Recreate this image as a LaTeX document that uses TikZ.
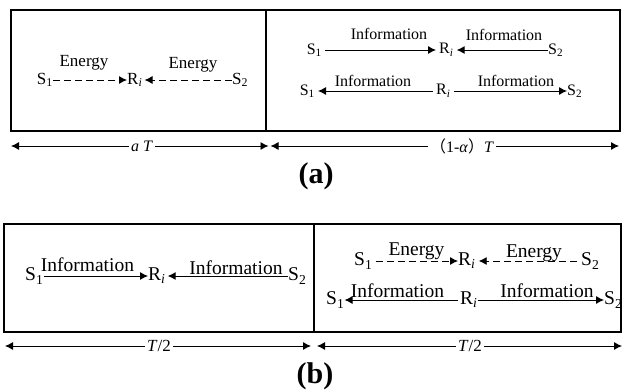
\documentclass[tikz,border=0pt]{standalone}
\usepackage{fontspec}
\setmainfont{Liberation Serif}
\newfontfamily\cjk{Noto Sans CJK SC}
\usetikzlibrary{arrows.meta}
\begin{document}
\begin{tikzpicture}[x=1pt,y=-1pt,
  every node/.style={inner sep=0pt},
  txa/.style={font=\fontsize{17}{19}\selectfont},
  txb/.style={font=\fontsize{16}{18}\selectfont},
  txc/.style={font=\fontsize{19.5}{22}\selectfont},
  dimtx/.style={font=\fontsize{16}{18}\selectfont, fill=white, inner xsep=2pt, inner ysep=1pt},
  flow/.style={-{Latex[length=8pt,width=8pt]}, line width=0.9pt},
  eflow/.style={flow, dash pattern=on 7pt off 4pt},
  dim/.style={-{Latex[length=8pt,width=8pt]}, line width=0.9pt},
  frame/.style={line width=1.2pt},
  divider/.style={line width=1.8pt},
  captx/.style={font=\fontsize{30}{32}\selectfont\bfseries}]
\useasboundingbox (0,0) rectangle (622,389);

% ---------- (a) frame ----------
\draw[frame] (11,10) rectangle (620,131);
\draw[divider] (266,10) -- (266,131);

% (a) left: energy
\node[txa, anchor=east] (a1s1) at (53,80) {S\textsubscript{1}};
\node[txa, anchor=west] (a1ri) at (127,80) {R\textsubscript{\textit{i}}};
\node[txa, anchor=west] (a1s2) at (232,80) {S\textsubscript{2}};
\node[txa, anchor=base] (a1e1) at (84,66) {Energy};
\node[txa, anchor=base] (a1e2) at (193,68) {Energy};
\draw[eflow] (a1s1) -- (a1ri);
\draw[eflow, shorten >=2pt] (a1s2) -- (a1ri);

% (a) right row 1
\node[txb, anchor=east] (a2s1) at (322,50) {S\textsubscript{1}};
\node[txb, anchor=west] (a2ri) at (439,50) {R\textsubscript{\textit{i}}};
\node[txb, anchor=west] (a2s2) at (548,50) {S\textsubscript{2}};
\node[txb, anchor=base] (a2l1) at (389,39) {Information};
\node[txb, anchor=base] (a2l2) at (504,40) {Information};
\draw[flow, shorten <=3pt, shorten >=3pt] (a2s1) -- (a2ri);
\draw[flow, shorten >=3pt] (a2s2) -- (a2ri);

% (a) right row 2
\node[txb, anchor=east] (a3s1) at (315,91) {S\textsubscript{1}};
\node[txb, anchor=west] (a3ri) at (436,91) {R\textsubscript{\textit{i}}};
\node[txb, anchor=west] (a3s2) at (567,91) {S\textsubscript{2}};
\node[txb, anchor=base] (a3l1) at (373,86) {Information};
\node[txb, anchor=base] (a3l2) at (516,86) {Information};
\draw[flow, shorten <=3pt, shorten >=3pt] (a3ri) -- (a3s1);
\draw[flow, shorten <=3pt] (a3ri) -- (a3s2);

% (a) time axis
\coordinate (daL) at (11,146);
\coordinate (daM1) at (268.5,146);
\coordinate (daM2) at (270.5,146);
\coordinate (daR) at (619,146);
\node[dimtx] (daT1) at (142,146) {\textit{a} \textit{T}};
\node[dimtx] (daT2) at (462,146) {{\cjk （}1-\textit{α}{\cjk ）}\textit{T}};
\draw[dim] (daT1) -- (daL);
\draw[dim] (daT1) -- (daM1);
\draw[dim] (daT2) -- (daM2);
\draw[dim] (daT2) -- (daR);
\node[captx] (capa) at (316,176) {(a)};

% ---------- (b) frame ----------
\draw[frame] (4,224) rectangle (621,332);
\draw[frame] (314,224) -- (314,332);

% (b) left row
\node[txc, anchor=west] (b1s1) at (25,276) {S\textsubscript{1}};
\node[txc, anchor=west] (b1ri) at (148,276) {R\textsubscript{\textit{i}}};
\node[txc, anchor=west] (b1s2) at (288,276) {S\textsubscript{2}};
\node[txc, anchor=base] (b1l1) at (87.5,271) {Information};
\node[txc, anchor=base] (b1l2) at (236,274) {Information};
\draw[flow] (b1s1) -- (b1ri);
\draw[flow, shorten >=2pt] (b1s2) -- (b1ri);

% (b) right row 1
\node[txc, anchor=west] (b2s1) at (354,261) {S\textsubscript{1}};
\node[txc, anchor=west] (b2ri) at (458,261) {R\textsubscript{\textit{i}}};
\node[txc, anchor=west] (b2s2) at (581,261) {S\textsubscript{2}};
\node[txc, anchor=base] (b2e1) at (416.5,255) {Energy};
\node[txc, anchor=base] (b2e2) at (534,257) {Energy};
\draw[eflow, shorten <=3pt] (b2s1) -- (b2ri);
\draw[eflow, shorten <=4pt, shorten >=3pt] (b2s2) -- (b2ri);

% (b) right row 2
\node[txc, anchor=west] (b3s1) at (326,300) {S\textsubscript{1}};
\node[txc, anchor=west] (b3ri) at (460,300) {R\textsubscript{\textit{i}}};
\node[txc, anchor=west] (b3s2) at (604,300) {S\textsubscript{2}};
\node[txc, anchor=base] (b3l1) at (397.5,297) {Information};
\node[txc, anchor=base] (b3l2) at (547,297) {Information};
\draw[flow, shorten <=2pt] (b3ri) -- (b3s1);
\draw[flow] (b3ri) -- (b3s2);

% (b) time axis
\coordinate (dbL) at (5,346);
\coordinate (dbM1) at (311,346);
\coordinate (dbM2) at (317,346);
\coordinate (dbR) at (622,346);
\node[dimtx, font=\fontsize{17}{19}\selectfont] (dbT1) at (159,346) {\textit{T}/2};
\node[dimtx, font=\fontsize{17}{19}\selectfont] (dbT2) at (470,346) {\textit{T}/2};
\draw[dim] (dbT1) -- (dbL);
\draw[dim] (dbT1) -- (dbM1);
\draw[dim] (dbT2) -- (dbM2);
\draw[dim] (dbT2) -- (dbR);
\node[captx] (capb) at (315,376) {(b)};
\end{tikzpicture}
\end{document}
